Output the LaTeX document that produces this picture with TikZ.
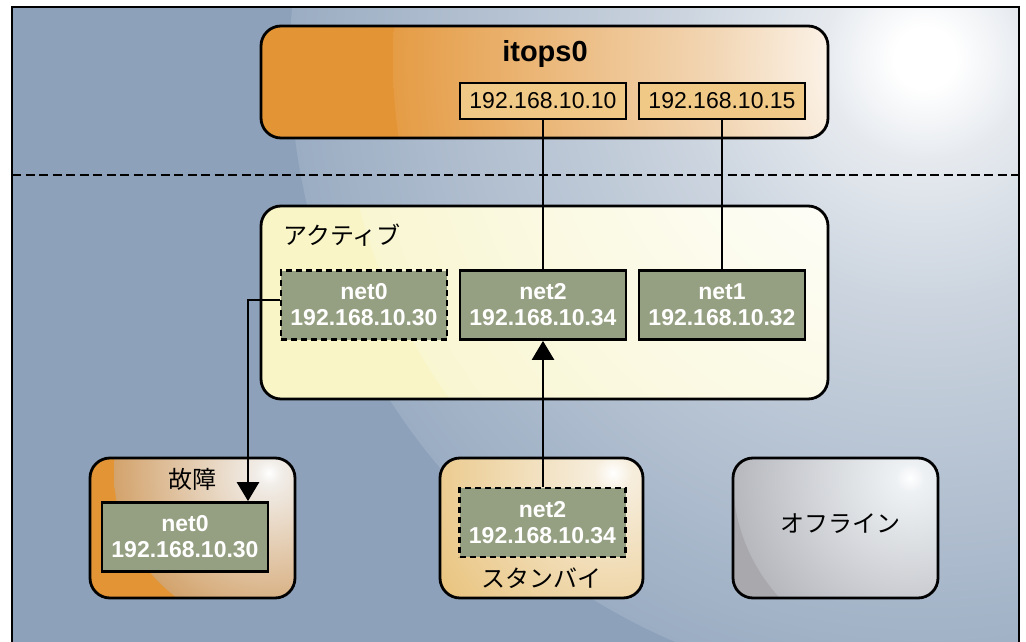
\documentclass[tikz,border=0pt]{standalone}
\usepackage{fontspec}
\setmainfont{Liberation Sans}
\newfontfamily\jp{Noto Sans CJK JP}
\usetikzlibrary{arrows.meta}
\definecolor{bg}{HTML}{8DA1BA}
\definecolor{bgA}{HTML}{E6EAEF}
\definecolor{bgB}{HTML}{CAD3DE}
\definecolor{bgC}{HTML}{9BADC3}
\definecolor{orng}{HTML}{E39535}
\definecolor{orA}{HTML}{FCF5EC}
\definecolor{orB}{HTML}{F2D6B4}
\definecolor{orC}{HTML}{E59C45}
\definecolor{ipfill}{HTML}{F0C987}
\definecolor{netfill}{HTML}{959F81}
\definecolor{actbase}{HTML}{F9F5C6}
\definecolor{actA}{HTML}{FDFDF6}
\definecolor{actB}{HTML}{F9F6D2}
\definecolor{fltA}{HTML}{F1EDE8}
\definecolor{fltB}{HTML}{D3A36C}
\definecolor{stbbase}{HTML}{E7BD6F}
\definecolor{stbA}{HTML}{F6EDDC}
\definecolor{offbase}{HTML}{A9A8AD}
\definecolor{offA}{HTML}{EEF1F4}
\definecolor{offB}{HTML}{B6B8BD}
\pgfdeclareradialshading{bgshade}{\pgfpoint{0bp}{0bp}}{color(0bp)=(white); color(1.2bp)=(white); color(4bp)=(bgA); color(10bp)=(bgB); color(25bp)=(bgC); color(50bp)=(bgC)}
\pgfdeclareradialshading{itshade}{\pgfpoint{0bp}{0bp}}{color(0bp)=(white); color(4bp)=(orA); color(10bp)=(orB); color(25bp)=(orC); color(50bp)=(orC)}
\pgfdeclareradialshading{actshade}{\pgfpoint{0bp}{0bp}}{color(0bp)=(white); color(8bp)=(actA); color(25bp)=(actB); color(50bp)=(actB)}
\pgfdeclareradialshading{fltshade}{\pgfpoint{0bp}{0bp}}{color(0bp)=(white); color(2bp)=(fltA); color(25bp)=(fltB); color(50bp)=(fltB)}
\pgfdeclareradialshading{stbshade}{\pgfpoint{0bp}{0bp}}{color(0bp)=(white); color(2bp)=(stbA); color(25bp)=(stbbase); color(50bp)=(stbbase)}
\pgfdeclareradialshading{offshade}{\pgfpoint{0bp}{0bp}}{color(0bp)=(white); color(2bp)=(offA); color(25bp)=(offB); color(50bp)=(offB)}
\tikzset{
  bigbox/.style={draw=black, line width=2.8pt, rounded corners=20pt, inner sep=0pt},
  ipbox/.style={draw=black, line width=1.2pt, fill=ipfill, inner sep=0pt, minimum width=166pt, minimum height=36pt, font=\fontsize{23}{26}\selectfont},
  netbox/.style={draw=black, line width=2.8pt, fill=netfill, inner sep=0pt, minimum width=166pt, minimum height=69pt, align=center, text=white, font=\fontsize{23}{26}\selectfont\bfseries},
  dashbox/.style={netbox, dash pattern=on 6pt off 4pt},
  jplabel/.style={font=\jp\fontsize{24}{26}\selectfont, inner sep=0pt},
  thinline/.style={line width=1.5pt},
  arrowline/.style={line width=2.6pt, -{Triangle[length=19pt,width=22pt]}},
}
\begin{document}
\begin{tikzpicture}[x=1pt,y=-1pt]
\useasboundingbox (0,0) rectangle (1026,642);
% background frame
\begin{scope}
  \clip (12,7) rectangle (1019,660);
  \fill[bg] (12,7) rectangle (1019,660);
  \shade[shading=bgshade] (925,58) circle (635);
\end{scope}
\draw[line width=2.8pt] (12,660) -- (12,7) -- (1019,7) -- (1019,660);
\draw[line width=2.8pt, dash pattern=on 9pt off 4.5pt] (12,175) -- (1019,175);
% itops0 shading
\begin{scope}
  \clip[rounded corners=20pt] (261,26) rectangle (828,138);
  \fill[orng] (261,26) rectangle (828,138);
  \shade[shading=itshade] (925,60) circle (532);
\end{scope}
% active shading
\begin{scope}
  \clip[rounded corners=20pt] (261,206) rectangle (828,399);
  \fill[actbase] (261,206) rectangle (828,399);
  \shade[shading=actshade] (925,58) circle (585);
\end{scope}
% fault shading
\begin{scope}
  \clip[rounded corners=20pt] (90,458) rectangle (295,598);
  \fill[orng] (90,458) rectangle (295,598);
  \shade[shading=fltshade] (269,473) circle (155);
\end{scope}
% standby shading
\begin{scope}
  \clip[rounded corners=20pt] (440,458) rectangle (643,598);
  \fill[stbbase] (440,458) rectangle (643,598);
  \shade[shading=stbshade] (613,473) circle (240);
\end{scope}
% offline shading
\begin{scope}
  \clip[rounded corners=20pt] (733,458) rectangle (938,598);
  \fill[offbase] (733,458) rectangle (938,598);
  \shade[shading=offshade] (910,478) circle (177);
\end{scope}
% big boxes
\node[bigbox, minimum width=567pt, minimum height=112pt] (itops) at (544.5,82) {};
\node[font=\fontsize{29}{30}\selectfont\bfseries, anchor=base, inner sep=0pt] (itopst) at (545,62) {itops0};
\node[bigbox, minimum width=567pt, minimum height=193pt] (active) at (544.5,302.5) {};
\node[jplabel, anchor=west] (actlbl) at (283,235) {アクティブ};
\node[bigbox, minimum width=205pt, minimum height=140pt] (fault) at (192.5,528) {};
\node[jplabel] (fltlbl) at (192,479) {故障};
\node[bigbox, minimum width=203pt, minimum height=140pt] (standby) at (541.5,528) {};
\node[jplabel] (stblbl) at (541,578) {スタンバイ};
\node[bigbox, minimum width=205pt, minimum height=140pt] (offline) at (835.5,528) {};
\node[jplabel] (offlbl) at (840,524) {オフライン};
% ip boxes
\node[ipbox] (ip10) at (543,101) {192.168.10.10};
\node[ipbox] (ip15) at (722,101) {192.168.10.15};
% net boxes
\node[dashbox] (net0a) at (364,305) {net0\\192.168.10.30};
\node[netbox] (net2a) at (543,305) {net2\\192.168.10.34};
\node[netbox] (net1a) at (722,305) {net1\\192.168.10.32};
\node[netbox] (net0f) at (185,537) {net0\\192.168.10.30};
\node[dashbox] (net2s) at (542.5,522.5) {net2\\192.168.10.34};
% connectors
\draw[thinline] (ip10.south) -- (net2a.north);
\draw[thinline] (ip15.south) -- (net1a.north);
\coordinate (bend) at (248,300);
\draw[arrowline] (net0a.west |- bend) -- (bend) -- (bend |- net0f.north);
\draw[arrowline] (net2s.north -| net2a.south) -- (net2a.south);
\end{tikzpicture}
\end{document}
